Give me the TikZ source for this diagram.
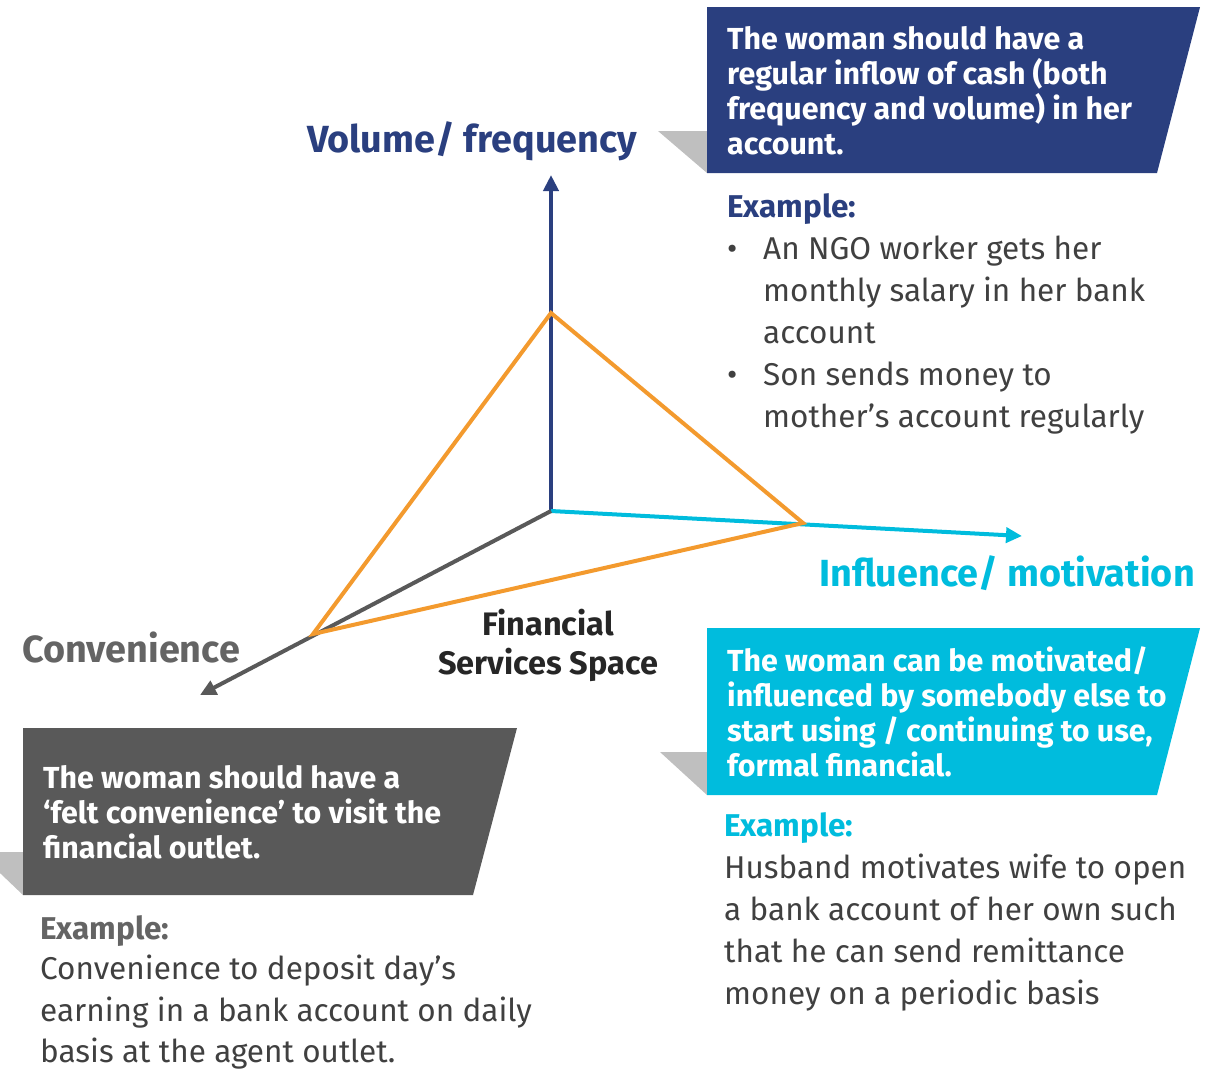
\documentclass[tikz,border=0pt]{standalone}
\usepackage{fontspec}
\setmainfont{Fira Sans}
\usetikzlibrary{arrows.meta, positioning}
\definecolor{fsblue}{RGB}{42,63,127}
\definecolor{fscyan}{RGB}{0,188,221}
\definecolor{fsgray}{RGB}{89,89,89}
\definecolor{tabgray}{RGB}{191,191,191}
\definecolor{fsorange}{RGB}{243,154,46}
\definecolor{bodytext}{RGB}{64,64,64}
\definecolor{labelgray}{RGB}{100,100,100}
\tikzset{
axis/.style={line width=4pt, -{Triangle[length=16pt,width=15pt]}}, % the three axis arrows
space/.style={line width=4pt, fsorange, line join=miter}, % the orange triangle
boxtext/.style={anchor=north west, inner sep=0pt, align=left, text=white, font=\bfseries\fontsize{30.4}{35}\selectfont},
body/.style={anchor=north west, inner sep=0pt, align=left, text=bodytext, font=\fontsize{31.5}{42}\selectfont},
heading/.style={anchor=north west, inner sep=0pt, font=\bfseries\fontsize{31.5}{42}\selectfont},
axislabel/.style={inner sep=0pt, font=\bfseries\fontsize{37.8}{40}\selectfont},
}
\begin{document}
\begin{tikzpicture}[x=1pt,y=-1pt]
    \useasboundingbox (0,0) rectangle (1217,1071);
    % axes and the orange space
    \coordinate (O) at (551,511);
    \coordinate (vol) at (551,175);
    \coordinate (inf) at (1022,536);
    \coordinate (conv) at (200,695);
    \coordinate (volpt) at (551,313);
    \coordinate (infpt) at (803,523);
    \coordinate (convpt) at (313,634);
    \draw[axis, fsblue] (O) -- (vol);
    \draw[axis, fscyan] (O) -- (inf);
    \draw[axis, fsgray] (O) -- (conv);
    \draw[space] (volpt) -- (infpt) -- (convpt) -- cycle;

    \node[axislabel, text=fsblue] (vollabel) at (472,141) {Volume/ frequency};
    \node[axislabel, text=fscyan] (inflabel) at (1007,573) {Influence/ motivation};
    \node[axislabel, text=labelgray] (convlabel) at (131,647) {Convenience};
    \node[inner sep=0pt, align=center, text=black!85, font=\bfseries\fontsize{32.5}{39}\selectfont] (fss) at (548,645) {Financial\\Services Space};

    % volume box
    \fill[tabgray] (658,131) -- (707,131) -- (707,173) -- cycle;
    \fill[fsblue] (707,7) -- (1200,7) -- (1157,173) -- (707,173) -- cycle;
    \node[boxtext] (voltext) at (727,26) {The woman should have a\\regular inflow of cash (both\\frequency and volume) in her\\account.};
    \node[heading, text=fsblue] (volex) at (727,193) {Example:};
    \node[body] (volexa) at (763,236) {An NGO worker gets her\\monthly salary in her bank\\account};
    \node[body] (volexb) at (763,362) {Son sends money to\\mother’s account regularly};
    \node[body] (bulleta) at (727,236) {\rlap{•}\phantom{h}};
    \node[body] (bulletb) at (727,362) {\rlap{•}\phantom{h}};

    % influence box
    \fill[tabgray] (660,752) -- (707,752) -- (707,795) -- cycle;
    \fill[fscyan] (707,628) -- (1200,628) -- (1157,795) -- (707,795) -- cycle;
    \node[boxtext] (inftext) at (727,646) {The woman can be motivated/\\influenced by somebody else to\\start using / continuing to use,\\formal financial.};
    \node[heading, text=fscyan] (infex) at (724,812) {Example:};
    \node[body] (infexa) at (724,854) {Husband motivates wife to open\\a bank account of her own such\\that he can send remittance\\money on a periodic basis};

    % convenience box
    \fill[tabgray] (-22,852) -- (23,852) -- (23,895) -- cycle;
    \fill[fsgray] (23,728) -- (517,728) -- (473,895) -- (23,895) -- cycle;
    \node[boxtext] (convtext) at (43,765) {The woman should have a\\‘felt convenience’ to visit the\\financial outlet.};
    \node[heading, text=labelgray] (convex) at (40,915) {Example:};
    \node[body, font=\fontsize{31.5}{41.5}\selectfont] (convexa) at (40,955) {Convenience to deposit day’s\\earning in a bank account on daily\\basis at the agent outlet.};
\end{tikzpicture}
\end{document}
